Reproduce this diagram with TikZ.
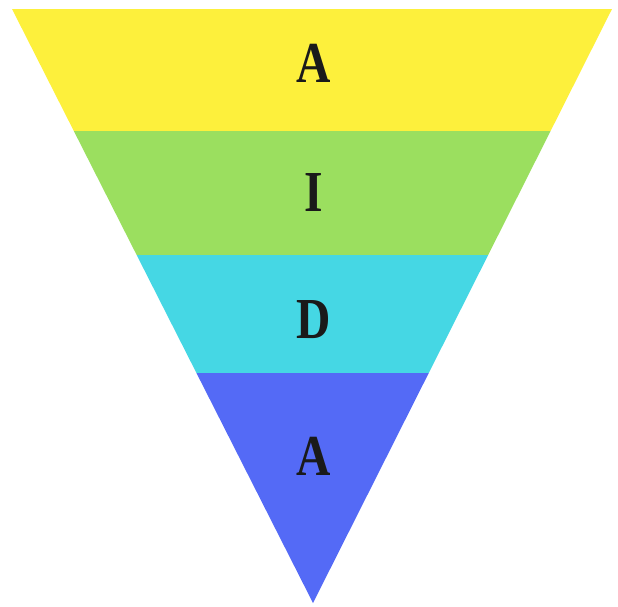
\documentclass[tikz,border=0pt]{standalone}
\usepackage{fontspec}
\setmainfont{Liberation Serif}
\definecolor{bandA}{HTML}{FDF03C}
\definecolor{bandI}{HTML}{9BDF5F}
\definecolor{bandD}{HTML}{45D7E4}
\definecolor{bandB}{HTML}{546AF6}
\definecolor{ink}{HTML}{1A1A1A}
\begin{document}
\begin{tikzpicture}[x=1pt,y=-1pt,
  lbl/.style={text=ink,font=\fontsize{58}{60}\selectfont\bfseries,inner sep=0pt,anchor=center}]
\useasboundingbox (0,0) rectangle (618,606);
\begin{scope}
  \clip (12,9) -- (612,9) -- (313,603) -- cycle;
  \fill[bandA] (0,0) rectangle (618,131);
  \fill[bandI] (0,131) rectangle (618,255);
  \fill[bandD] (0,255) rectangle (618,373);
  \fill[bandB] (0,373) rectangle (618,606);
\end{scope}
\node[lbl] (a1) at (314,63) {\scalebox{0.82}[1]{A}};
\node[lbl] (i) at (314,193) {\scalebox{0.82}[1]{I}};
\node[lbl] (d) at (314,320) {\scalebox{0.82}[1]{D}};
\node[lbl] (a2) at (314,456) {\scalebox{0.82}[1]{A}};
\end{tikzpicture}
\end{document}
